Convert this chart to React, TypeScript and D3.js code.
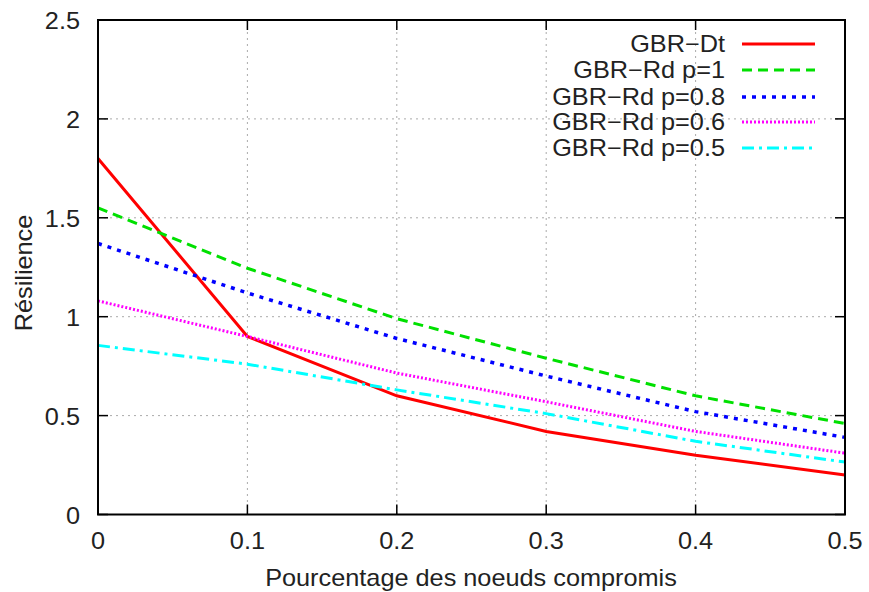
import React from "react";
import * as d3 from "d3";

const xValues = [0, 0.1, 0.2, 0.3, 0.4, 0.5];
const gbrDt = [1.8, 0.9, 0.6, 0.42, 0.3, 0.2];
const gbrRd1 = [1.55, 1.245, 0.99, 0.79, 0.6, 0.46];
const gbrRd08 = [1.37, 1.12, 0.89, 0.7, 0.52, 0.39];
const gbrRd06 = [1.08, 0.9, 0.715, 0.57, 0.42, 0.31];
const gbrRd05 = [0.855, 0.76, 0.63, 0.51, 0.37, 0.265];
const seriesNames = ["GBR\u2212Dt", "GBR\u2212Rd p=1", "GBR\u2212Rd p=0.8", "GBR\u2212Rd p=0.6", "GBR\u2212Rd p=0.5"];
const xTicks = [0, 0.1, 0.2, 0.3, 0.4, 0.5];
const yTicks = [0, 0.5, 1, 1.5, 2, 2.5];

const seriesData = [gbrDt, gbrRd1, gbrRd08, gbrRd06, gbrRd05];
const colors = ["#ff0000", "#00e000", "#0000ff", "#ff00ff", "#00ffff"];
const dashes = [undefined, "10,6", "4,6", "2,2", "12,5,3,5"];
const widths = [3, 3, 3.5, 3, 3];

const FS = 23;
const SX = 1.1;

function T({ x, y, anchor, children, rotate }: { x: number; y: number; anchor: string; children: React.ReactNode; rotate?: boolean }) {
  return (
    <text
      transform={`translate(${x},${y})${rotate ? " rotate(-90)" : ""} scale(${SX},1)`}
      fontSize={FS}
      textAnchor={anchor}
      fill="#222"
    >
      {children}
    </text>
  );
}

export default function App() {
  const W = 869, H = 592;
  const L = 98, R = 845, Tp = 20, B = 514.5;
  const x = d3.scaleLinear().domain([0, 0.5]).range([L, R]);
  const y = d3.scaleLinear().domain([0, 2.5]).range([B, Tp]);
  const line = d3.line<number>().x((_, i) => x(xValues[i])).y((d) => y(d));
  const font = "'Liberation Sans', Arial, Helvetica, sans-serif";
  const legendY = [44, 70, 97, 122, 148];
  return (
    <svg width={W} height={H} style={{ position: "absolute", left: 0, top: 0, background: "#fff" }} fontFamily={font}>
      {xTicks.slice(1, -1).map((t) => (
        <line key={"gx" + t} x1={x(t)} x2={x(t)} y1={Tp} y2={B} stroke="#aaa" strokeWidth={1} strokeDasharray="2,4" />
      ))}
      {yTicks.slice(1, -1).map((t) => (
        <line key={"gy" + t} x1={L} x2={R} y1={y(t)} y2={y(t)} stroke="#aaa" strokeWidth={1} strokeDasharray="2,4" />
      ))}
      {seriesData.map((s, i) => (
        <path key={"s" + i} d={line(s) || ""} fill="none" stroke={colors[i]} strokeWidth={widths[i]} strokeDasharray={dashes[i]} />
      ))}
      {xTicks.map((t) => (
        <g key={"tx" + t}>
          <line x1={x(t)} x2={x(t)} y1={B} y2={B - 10} stroke="#000" strokeWidth={1.5} />
          <line x1={x(t)} x2={x(t)} y1={Tp} y2={Tp + 10} stroke="#000" strokeWidth={1.5} />
          <T x={x(t)} y={B + 34} anchor="middle">{String(t)}</T>
        </g>
      ))}
      {yTicks.map((t) => (
        <g key={"ty" + t}>
          <line x1={L} x2={L + 10} y1={y(t)} y2={y(t)} stroke="#000" strokeWidth={1.5} />
          <line x1={R} x2={R - 10} y1={y(t)} y2={y(t)} stroke="#000" strokeWidth={1.5} />
          <T x={L - 18} y={y(t) + 9} anchor="end">{String(t)}</T>
        </g>
      ))}
      <rect x={L} y={Tp} width={R - L} height={B - Tp} fill="none" stroke="#000" strokeWidth={2} />
      {seriesNames.map((n, i) => (
        <g key={"lg" + i}>
          <T x={725} y={legendY[i] + 8} anchor="end">{n}</T>
          <line x1={742} x2={815} y1={legendY[i]} y2={legendY[i]} stroke={colors[i]} strokeWidth={widths[i]} strokeDasharray={dashes[i]} />
        </g>
      ))}
      <T x={471} y={586} anchor="middle">Pourcentage des noeuds compromis</T>
      <T x={32} y={273} anchor="middle" rotate>Résilience</T>
    </svg>
  );
}
